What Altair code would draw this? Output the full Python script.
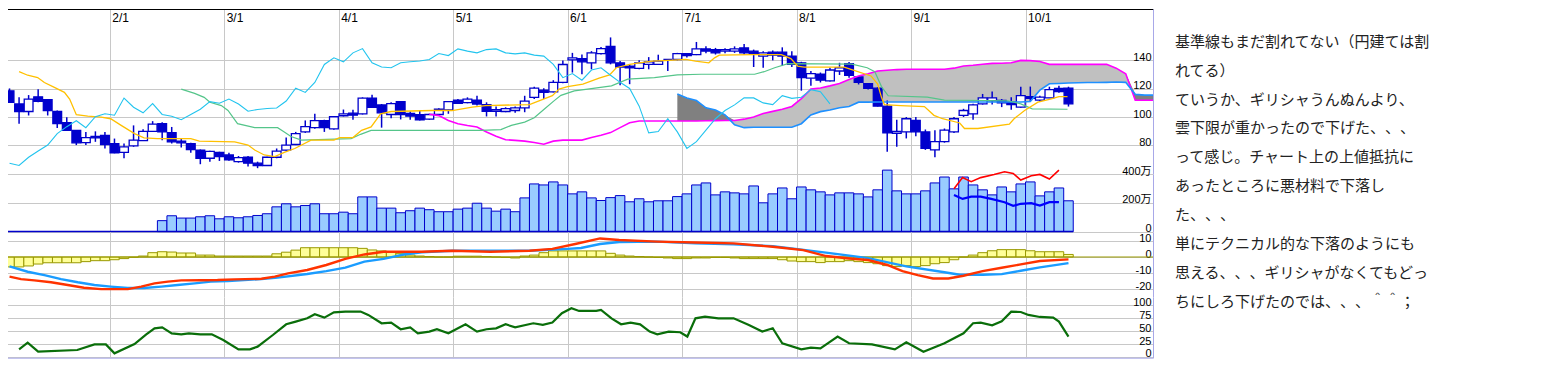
import json
import altair as alt
import pandas as pd

# ---------------- values ----------------
months = ["2/1", "3/1", "4/1", "5/1", "6/1", "7/1", "8/1", "9/1", "10/1"]
month_pos = [11, 23, 35, 47, 59, 71, 83, 95, 107]

opens = [118.5, 109.2, 103.9, 114.3, 112.3, 103.9, 96.0, 90.6, 82.0, 86.4,
         87.1, 81.3, 75.0, 79.7, 83.4, 89.9, 95.3, 89.0, 83.0, 81.3,
         76.7, 70.9, 75.0, 73.2, 68.5, 71.6, 67.4, 65.8, 71.6, 76.7,
         80.6, 89.5, 92.5, 97.4, 91.6, 100.9, 102.7, 102.3, 113.4, 108.5,
         101.8, 110.9, 102.5, 101.6, 98.5, 101.8, 105.1, 112.0, 110.2, 112.0,
         108.8, 104.1, 103.9, 104.6, 106.4, 113.9, 119.0, 117.8, 124.4, 140.4,
         141.3, 138.3, 144.8, 149.9, 138.3, 136.0, 134.4, 137.2, 137.2, 140.6,
         140.6, 144.8, 144.1, 148.1, 147.6, 146.5, 146.5, 148.8, 146.5, 143.0,
         145.8, 145.8, 143.0, 138.3, 127.4, 130.2, 125.5, 132.5, 137.6, 128.3,
         123.5, 120.4, 107.7, 88.5, 89.5, 97.7, 89.5, 76.8, 82.6, 89.5,
         101.2, 102.3, 109.3, 111.6, 111.8, 110.5, 107.0, 114.4, 112.0, 113.5,
         120.2, 120.4]
highs = [120.2, 113.9, 115.5, 119.7, 112.7, 104.6, 99.9, 90.6, 89.5, 89.9,
         89.5, 84.8, 81.3, 94.1, 91.3, 97.1, 96.4, 93.0, 84.8, 81.8,
         77.1, 76.2, 75.5, 74.8, 72.5, 72.5, 68.5, 72.0, 77.8, 85.5,
         89.5, 97.6, 102.3, 98.1, 100.6, 105.3, 105.1, 113.9, 115.7, 109.2,
         110.4, 110.9, 103.9, 104.6, 102.3, 106.2, 111.3, 112.7, 113.9, 115.0,
         110.4, 107.4, 106.9, 107.4, 115.0, 121.3, 120.4, 126.0, 139.9, 145.3,
         144.1, 146.5, 149.5, 156.2, 139.5, 137.2, 140.0, 142.3, 144.0, 141.0,
         145.3, 145.0, 153.0, 150.0, 148.8, 148.5, 149.9, 151.5, 147.6, 146.5,
         147.0, 149.2, 146.4, 139.0, 132.5, 131.4, 134.8, 138.3, 138.8, 129.0,
         124.0, 121.0, 111.6, 98.0, 100.0, 100.0, 91.2, 90.7, 91.9, 100.0,
         105.8, 109.3, 116.3, 118.1, 112.7, 114.0, 121.4, 121.5, 115.0, 121.4,
         122.0, 121.4]
lows = [110.0, 95.3, 101.1, 110.4, 101.1, 92.3, 90.6, 80.2, 80.2, 82.5,
        77.8, 74.4, 70.9, 79.0, 83.0, 89.5, 83.7, 81.3, 78.5, 74.8,
        66.7, 68.5, 69.0, 69.2, 67.8, 65.1, 63.9, 65.5, 70.9, 76.2,
        80.2, 88.8, 91.8, 89.5, 91.1, 100.4, 98.1, 101.8, 106.4, 92.5,
        99.2, 98.3, 98.1, 97.6, 98.1, 101.1, 102.3, 109.2, 109.7, 108.1,
        100.4, 100.4, 103.4, 103.0, 103.4, 112.7, 112.7, 117.4, 123.9, 131.4,
        130.2, 133.7, 144.1, 137.2, 122.5, 123.2, 133.7, 133.7, 137.0, 132.5,
        140.0, 142.0, 143.7, 145.0, 144.1, 145.0, 145.3, 144.1, 135.3, 134.8,
        140.0, 136.0, 135.3, 118.6, 122.1, 124.4, 125.0, 129.7, 127.8, 123.0,
        119.5, 107.4, 75.5, 79.0, 84.9, 86.5, 76.8, 71.7, 81.9, 88.8,
        100.0, 98.1, 108.8, 108.8, 107.0, 105.1, 106.5, 111.0, 111.0, 113.3,
        117.2, 107.4]
closes = [110.4, 103.9, 112.7, 111.1, 104.6, 95.3, 90.6, 81.8, 85.5, 85.3,
          80.6, 74.8, 79.0, 83.7, 89.9, 95.0, 89.5, 82.5, 81.8, 77.1,
          70.9, 75.7, 72.0, 69.7, 71.3, 67.4, 65.8, 71.6, 76.0, 80.2,
          88.3, 93.2, 97.4, 92.5, 100.2, 102.3, 101.3, 113.4, 106.9, 103.0,
          109.5, 101.8, 100.6, 98.1, 101.8, 105.5, 110.9, 109.7, 112.7, 109.2,
          104.1, 105.3, 106.0, 106.4, 111.3, 120.4, 117.4, 124.4, 137.1, 141.8,
          139.0, 145.3, 148.3, 138.3, 135.3, 134.8, 138.3, 139.0, 139.5, 140.6,
          144.8, 143.4, 148.1, 146.5, 145.3, 147.6, 148.1, 145.3, 144.6, 145.3,
          143.7, 143.0, 137.2, 127.8, 130.7, 126.0, 133.2, 134.8, 129.5, 124.5,
          120.2, 107.7, 88.8, 89.8, 98.8, 89.5, 77.9, 82.6, 90.7, 98.8,
          104.6, 108.6, 113.5, 113.5, 110.0, 108.8, 115.1, 113.2, 114.0, 119.3,
          117.9, 109.3]

tenkan = [(1, 132.0), (1.9, 129.5), (2.95, 127.9), (3.65, 124.4), (4.7, 120.9), (5.75, 117.4),
          (6.3, 112.7), (7, 101.6), (8.2, 100.6), (9.6, 99.9), (10.6, 98.8), (11.7, 94.1),
          (13.1, 88.3), (14.1, 85.3), (15.5, 84.8), (19, 84.8), (19.9, 83.0), (23.6, 82.5),
          (25, 80.2), (25.7, 76.7), (26.7, 73.2), (27.8, 72.0), (28.8, 75.0), (29.9, 77.8),
          (31.6, 83.7), (34, 83.7), (34.6, 85.5), (36, 85.5), (36.9, 90.6), (37.9, 93.0),
          (38.9, 102.3), (40, 103.9), (44.3, 104.6), (46.4, 104.6), (48.5, 107.0), (49.9, 108.1),
          (54.5, 108.8), (56.9, 115.1), (57.6, 119.7), (58.5, 121.4), (60.1, 123.2), (61.8, 127.4),
          (62.9, 129.7), (63.6, 134.8), (65, 137.2), (66, 138.3), (67.4, 139.5), (69.1, 140.0),
          (70.9, 140.7), (71.9, 139.5), (73.3, 138.3), (73.9, 141.8), (74.4, 143.7), (77.9, 144.1),
          (80.9, 144.1), (81.9, 141.3), (82.6, 136.0), (83.3, 135.3), (87.5, 135.3), (88.2, 133.7),
          (90.3, 129.0), (91, 123.2), (91.4, 113.9), (91.7, 108.8), (93.4, 108.1), (95.9, 107.4),
          (96.9, 101.2), (97.8, 98.8), (99.6, 95.8), (100.1, 91.9), (101.5, 91.9), (104.8, 94.9),
          (105.3, 98.8), (106.4, 104.6), (107.8, 110.5), (109.2, 112.8), (110, 114.4), (110.9, 114.4)]
kijun = [(18, 119.7), (19.4, 116.7), (20.4, 113.9), (21, 110.4), (22.2, 108.1), (22.9, 104.6),
         (23.9, 95.3), (25.7, 92.5), (28.1, 92.5), (28.8, 89.5), (29.5, 86.3), (30.6, 83.7),
         (35.8, 84.8), (36.8, 87.8), (37.9, 90.6), (49.4, 90.6), (51.5, 91.1), (52.6, 94.1),
         (54, 96.4), (55, 99.5), (56.1, 105.8), (57.1, 111.6), (57.8, 115.3), (59.2, 118.5),
         (60.6, 119.7), (63.1, 122.0), (64.8, 126.7), (67.6, 127.8), (70, 129.7), (72.5, 130.2),
         (78.1, 130.2), (79.1, 132.0), (80.2, 134.8), (81.6, 137.7), (88.3, 137.4), (89.9, 134.8),
         (90.7, 132.0), (91.4, 121.5), (92.1, 115.0), (96.2, 114.0), (98, 112.0), (104.6, 111.5),
         (106, 109.3), (107.2, 105.8), (110.9, 105.5)]
chikou_lag = 25

span_a_start = 44
span_a = [102.0, 101.0, 97.5, 95.3, 94.0, 93.0, 89.5, 86.5, 84.0, 83.5,
          83.0, 82.0, 80.8, 83.0, 83.7, 83.7, 83.7, 85.6, 87.2, 89.0,
          92.5, 96.0, 97.2, 97.2, 97.2, 97.2, 97.2, 97.2, 97.2, 97.4,
          97.5, 97.6, 97.6, 98.5, 100.0, 102.5, 104.0, 105.5, 107.5, 113.0,
          119.7, 120.5, 122.0, 123.7, 126.5, 129.0, 130.5, 132.5, 133.0, 133.5,
          133.7, 133.7, 133.7, 133.7, 133.7, 134.5, 136.0, 136.5, 137.3, 137.9,
          138.0, 138.3, 140.0, 139.8, 139.2, 137.2, 137.2, 137.2, 137.2, 137.2,
          137.2, 137.2, 134.5, 130.5, 111.8, 111.8, 111.8]
span_b_start = 70
span_b = [116.2, 113.5, 111.6, 106.5, 105.0, 101.5, 94.5, 92.5, 92.8, 92.8,
          92.8, 92.8, 92.8, 95.3, 101.5, 103.8, 105.0, 106.5, 107.4, 110.5,
          110.5, 110.6, 110.6, 110.6, 110.6, 110.6, 110.6, 110.6, 110.6, 110.6,
          110.6, 110.6, 110.6, 110.6, 110.6, 110.6, 110.6, 111.0, 119.0, 123.5,
          123.7, 124.0, 124.2, 124.4, 124.4, 124.5, 124.7, 124.5, 116.0, 115.5,
          115.5]

vol_start = 16
volumes = [76, 110, 94, 94, 103, 110, 89, 103, 96, 103,
           112, 124, 172, 193, 172, 181, 193, 124, 124, 135,
           124, 241, 241, 163, 163, 131, 145, 163, 152, 138,
           138, 156, 163, 197, 163, 142, 156, 138, 234, 331,
           324, 345, 324, 262, 276, 234, 216, 236, 250, 207,
           228, 207, 214, 214, 243, 262, 324, 338, 255, 276,
           269, 262, 317, 200, 262, 303, 228, 310, 290, 276,
           255, 269, 269, 262, 241, 290, 427, 283, 262, 262,
           283, 338, 379, 297, 379, 324, 290, 255, 310, 276,
           331, 345, 248, 276, 303, 214]
vol_ma_red = [(99, 297), (99.9, 375), (100.8, 347), (101.8, 375), (103.2, 397), (104.3, 416),
              (105.2, 404), (106, 358), (107.1, 388), (108, 397), (109, 365), (110, 427)]
vol_ma_blue = [(99, 255), (99.9, 227), (100.8, 243), (101.8, 243), (102.9, 227), (104.3, 204),
               (105.2, 179), (106, 193), (107.1, 197), (108, 181), (109, 204), (110, 204)]

macd_red = [(0, -12.3), (1.2, -13.8), (2.6, -14.6), (4.35, -15.8), (6.1, -17.5), (7.8, -19.2),
            (9.6, -20.1), (12.4, -20.1), (13.8, -18.5), (15.2, -16.5), (16.6, -15.4), (18, -14.6),
            (20.1, -14.5), (21.8, -14.4), (23.6, -14.0), (26.4, -13.6), (27.8, -12.3), (29.2, -10.2),
            (31.2, -8.1), (33.2, -5.0), (35.2, -1.2), (37.2, 1.6), (39.2, 3.3), (43.2, 3.3),
            (46.4, 3.9), (50.4, 3.3), (54.5, 3.9), (56.9, 5.1), (59.3, 8.1), (61.9, 11.6),
            (63.9, 10.6), (67.9, 9.6), (71.9, 9.1), (75.9, 8.5), (80, 6.4), (83.2, 4.3),
            (85.6, 0.6), (88, -0.9), (90, -1.9), (92, -5.0), (93.6, -8.8), (95.2, -11.3),
            (96.8, -13.4), (98.4, -13.4), (100, -11.7), (102, -8.8), (104, -6.7), (106, -4.6),
            (108, -2.5), (111, -1.5)]
macd_blue = [(0, -5.8), (1.9, -9.2), (3.65, -11.3), (5.4, -13.8), (7.15, -15.8), (8.9, -17.5),
             (10.6, -18.5), (12.4, -19.4), (14.1, -19.4), (15.9, -18.5), (17.6, -17.5), (19.4, -16.5),
             (21.1, -15.4), (22.9, -15.0), (24.6, -14.4), (26.4, -13.8), (28.1, -12.9), (31.2, -10.6),
             (33.2, -8.8), (35.2, -6.6), (37.2, -2.9), (39.2, -1.2), (41.2, 1.4), (43.2, 3.0),
             (46.4, 3.9), (50.4, 3.9), (54.5, 3.9), (58.5, 5.1), (59.9, 5.6), (61.9, 8.1),
             (63.9, 9.4), (67.9, 9.6), (71.9, 8.5), (75.9, 7.9), (80, 6.8), (82.4, 5.1),
             (86, 2.4), (90, -0.7), (94, -5.9), (98, -9.5), (99.6, -11.1), (102, -11.1),
             (104, -10.7), (106, -8.6), (108, -6.5), (111, -3.8)]
macd_hist = [-6.2, -6.2, -5.6, -4.4, -3.6, -3.6, -3.6, -3.6, -2.9, -2.3,
             -2.3, -1.7, -1.0, -0.2, 0.6, 2.7, 3.3, 3.1, 2.5, 2.5,
             1.2, 1.2, 0.6, 0.6, 0.6, 0.6, 0.6, 0.6, 2.0, 3.0,
             4.3, 5.8, 5.8, 5.8, 5.8, 5.8, 5.8, 5.4, 4.4, 3.8,
             2.9, 2.3, 1.2, 0.6, 0.3, 0.0, 0.0, 0.5, 0.5, 0.5,
             0.3, 0.0, -0.3, -0.6, 0.6, 1.2, 2.7, 3.8, 3.8, 3.8,
             3.8, 3.8, 3.8, 2.3, 1.2, 0.6, 0.3, 0.0, -0.3, -0.6,
             -1.0, -1.0, -0.6, -0.6, -0.3, -0.3, -0.6, -1.0, -1.0, -1.0,
             -1.0, -1.7, -2.5, -2.9, -2.9, -3.5, -2.9, -2.9, -2.3, -2.9,
             -3.5, -4.2, -5.4, -6.0, -5.4, -6.0, -5.4, -4.2, -3.5, -1.7,
             0.0, 1.2, 2.7, 3.9, 4.6, 4.6, 4.6, 3.9, 3.3, 3.3,
             3.3, 1.6]

rsi = [(1, 14.7), (1.9, 27.5), (3, 10.2), (7.1, 13.4), (8.9, 24.3), (10.1, 24.3), (11, 7.1),
       (13.1, 25.0), (14.3, 43.0), (15.2, 55.1), (16, 57.0), (17, 45.5), (18, 43.6), (18.8, 45.5),
       (20, 43.6), (21.2, 43.6), (22.4, 32.7), (24, 14.7), (25.2, 14.7), (26, 19.9), (27.6, 42.3),
       (29, 62.9), (30, 68.0), (31.2, 74.4), (32, 82.1), (33, 75.7), (34, 86.0), (35.2, 87.3),
       (36.8, 87.3), (37.6, 80.9), (39, 64.9), (40, 66.2), (41, 53.4), (42, 57.0), (42.8, 45.5),
       (44, 48.9), (44.8, 53.4), (46, 45.5), (47.8, 62.9), (49, 48.9), (50, 53.4), (51, 55.1),
       (52, 62.9), (53, 57.0), (54.9, 64.9), (55.9, 61.7), (56.9, 66.2), (57.9, 84.1), (58.9, 93.7),
       (59.7, 88.6), (61.5, 88.6), (62, 90.5), (63.1, 74.4), (64.1, 62.9), (65.1, 66.2), (66.1, 62.9),
       (67.1, 48.9), (67.9, 43.6), (69.1, 48.9), (70.3, 47.6), (71.05, 39.3), (71.9, 74.4), (72.9, 77.6),
       (74.3, 74.4), (75.9, 74.4), (77.5, 61.7), (78.9, 48.9), (80, 55.3), (81, 26.4), (83, 14.7),
       (84, 17.9), (85, 16.6), (86.8, 39.3), (88, 26.4), (90.4, 24.4), (92.8, 14.7), (94, 28.2),
       (95.8, 10.2), (98, 26.4), (100, 45.5), (101, 64.9), (101.8, 66.2), (103, 61.0), (104, 68.5),
       (105, 87.3), (106, 86.5), (106.8, 80.9), (108, 77.0), (109.4, 75.7), (110, 68.1), (111, 39.3)]

price_ticks = [80, 100, 120, 140]
price_labels = ["80", "100", "120", "140"]
vol_ticks = [0, 200, 400]
vol_labels = ["0", "200万", "400万"]
macd_ticks = [-20, -10, 0, 10]
macd_labels = ["-20", "-10", "0", "10"]
rsi_ticks = [0, 25, 50, 75, 100]
rsi_labels = ["0", "25", "50", "75", "100"]

comment_lines = [
    "基準線もまだ割れてない（円建ては割",
    "れてる）",
    "ていうか、ギリシャうんぬんより、",
    "雲下限が重かったので下げた、、、",
    "って感じ。チャート上の上値抵抗に",
    "あったところに悪材料で下落し",
    "た、、、",
    "単にテクニカル的な下落のようにも",
    "思える、、、ギリシャがなくてもどっ",
    "ちにしろ下げたのでは、、、＾＾；",
]

# ---------------- styling ----------------
W = 1149
H_PRICE, H_VOL, H_MACD, H_RSI = 164.7, 57.6, 65.0, 60.7
X0, X1 = -0.08, 120.36
GRID = "#c8c8c8"
LAV = "#a8a8e8"
BLUE = "#0000cc"
NUMFONT = "Liberation Sans Narrow, Liberation Sans, Noto Sans CJK JP, sans-serif"
NUMSIZE = 11


def lookup_expr(values, labels):
    return "%s[indexof(%s, datum.value)]" % (json.dumps(labels, ensure_ascii=False), json.dumps(values))


def xscale():
    return alt.Scale(domain=[X0, X1], nice=False, zero=False)


def xaxis(kind):
    common = dict(values=month_pos, grid=True, gridColor=GRID, gridWidth=1, ticks=False,
                  tickSize=0, title=None)
    if kind == "top":
        return alt.Axis(orient="top", domain=True, domainColor="black", domainWidth=1,
                        labels=True, labelExpr=lookup_expr(month_pos, months), labelAlign="left",
                        labelBaseline="top", labelPadding=-3, labelOffset=2, labelFont=NUMFONT,
                        labelFontSize=12, labelColor="black", labelFlush=False,
                        labelOverlap=False, **common)
    if kind == "bottom":
        return alt.Axis(orient="bottom", domain=True, domainColor=LAV, domainWidth=1,
                        labels=False, **common)
    return alt.Axis(orient="bottom", domain=False, labels=False, **common)


def yaxis(values, labels):
    return alt.Axis(orient="right", values=values, labelExpr=lookup_expr(values, labels),
                    grid=True, gridColor=GRID, gridWidth=1, ticks=False, tickSize=0,
                    domain=True, domainColor=LAV, domainWidth=1, labelAlign="right",
                    labelBaseline="alphabetic", labelPadding=-2, labelFont=NUMFONT,
                    labelFontSize=NUMSIZE, labelColor="black", labelFlush=False,
                    labelOverlap=False, title=None)


def X(field, axis=None):
    return alt.X(field, type="quantitative", scale=xscale(), axis=axis)


def pairs_df(pairs):
    return pd.DataFrame({"x": [p[0] + 0.5 for p in pairs], "v": [p[1] for p in pairs]})


def left_border():
    return alt.Chart(pd.DataFrame({"x": [X0]})).mark_rule(color="black", strokeWidth=1).encode(
        x=X("x"))


def panel(*layers, height):
    return alt.layer(*layers).resolve_axis(x="independent", y="independent").properties(
        width=W, height=height)


# ---------------- price panel ----------------
PS = alt.Scale(domain=[60, 176.26], nice=False, zero=False)
n = len(opens)
candles = pd.DataFrame({"i": list(range(n)), "open": opens, "high": highs,
                        "low": lows, "close": closes})
candles["xc"] = candles["i"] + 0.5
candles["xl"] = candles["i"] + 0.04
candles["xr"] = candles["i"] + 0.96
candles["fillc"] = [BLUE if c < o else "#ffffff" for o, c in zip(opens, closes)]

cloud = pd.DataFrame({"i": list(range(span_b_start, span_b_start + len(span_b))), "b": span_b})
cloud["a"] = [span_a[i - span_a_start] for i in cloud["i"]]
cloud["hi"] = cloud[["a", "b"]].max(axis=1)
cloud["x"] = cloud["i"] + 0.5

spa = pd.DataFrame({"x": [span_a_start + k + 0.5 for k in range(len(span_a))], "v": span_a})
spb = pd.DataFrame({"x": [span_b_start + k + 0.5 for k in range(len(span_b))], "v": span_b})
chik = pd.DataFrame({"x": [k + 0.5 for k in range(n - chikou_lag)], "v": closes[chikou_lag:]})

light = alt.Chart(cloud).mark_area(color="#c0c0c0", clip=True, interpolate="linear").encode(
    x=X("x", xaxis("top")),
    y=alt.Y("b:Q", scale=PS, axis=yaxis(price_ticks, price_labels)),
    y2="hi:Q")
dark = alt.Chart(cloud).mark_area(color="#808080", clip=True, interpolate="linear").encode(
    x=X("x"), y=alt.Y("a:Q", scale=PS, axis=None), y2="hi:Q")
wicks = alt.Chart(candles).mark_rule(color=BLUE, strokeWidth=1.5).encode(
    x=X("xc"), y=alt.Y("low:Q", scale=PS, axis=None), y2="high:Q")
bodies = alt.Chart(candles).mark_rect(stroke=BLUE, strokeWidth=1.3).encode(
    x=X("xl"), x2="xr:Q", y=alt.Y("open:Q", scale=PS, axis=None), y2="close:Q",
    fill=alt.Fill("fillc:N", scale=None))


def pline(df, color, width):
    return alt.Chart(df).mark_line(color=color, strokeWidth=width, clip=True).encode(
        x=X("x"), y=alt.Y("v:Q", scale=PS, axis=None))


price = panel(
    light, dark, wicks, bodies,
    pline(spa, "#ff00ff", 1.6), pline(spb, "#1e90ff", 1.6),
    pline(pairs_df(kijun), "#55c58a", 1.2),
    pline(pairs_df(tenkan), "#ffc000", 1.3),
    pline(chik, "#22c4ee", 1.1),
    left_border(),
    height=H_PRICE)

# ---------------- volume panel ----------------
VS = alt.Scale(domain=[0, 400], nice=False, zero=False)
vol = pd.DataFrame({"i": list(range(vol_start, vol_start + len(volumes))), "v": volumes})
vol["xl"] = vol["i"]
vol["xr"] = vol["i"] + 1
vol["z"] = 0
vbars = alt.Chart(vol).mark_rect(fill="#99ccff", stroke=BLUE, strokeWidth=1).encode(
    x=X("xl", xaxis("mid")), x2="xr:Q",
    y=alt.Y("v:Q", scale=VS, axis=yaxis(vol_ticks, vol_labels)), y2="z:Q")
vbase = alt.Chart(pd.DataFrame({"x1": [X0], "x2": [n], "y": [0]})).mark_rule(
    color=BLUE, strokeWidth=1.5).encode(x=X("x1"), x2="x2:Q", y=alt.Y("y:Q", scale=VS, axis=None))


def vline(pairs, color, width):
    return alt.Chart(pairs_df(pairs)).mark_line(color=color, strokeWidth=width).encode(
        x=X("x"), y=alt.Y("v:Q", scale=VS, axis=None))


volume = panel(vbars, vbase, vline(vol_ma_red, "#ff0000", 1.6),
               vline(vol_ma_blue, "#0000ff", 2.2), left_border(), height=H_VOL)

# ---------------- MACD panel ----------------
MS = alt.Scale(domain=[-25, 15.625], nice=False, zero=False)
hist = pd.DataFrame({"i": list(range(len(macd_hist))), "h": macd_hist})
hist["xl"] = hist["i"]
hist["xr"] = hist["i"] + 1
hist["z"] = 0
hbars = alt.Chart(hist).mark_rect(fill="#ffff99", stroke="#999900", strokeWidth=1).encode(
    x=X("xl", xaxis("mid")), x2="xr:Q",
    y=alt.Y("h:Q", scale=MS, axis=yaxis(macd_ticks, macd_labels)), y2="z:Q")
zero = alt.Chart(pd.DataFrame({"y": [0]})).mark_rule(color="#999900", strokeWidth=1.2).encode(
    y=alt.Y("y:Q", scale=MS, axis=None))


def mline(pairs, color):
    return alt.Chart(pairs_df(pairs)).mark_line(color=color, strokeWidth=2.4).encode(
        x=X("x"), y=alt.Y("v:Q", scale=MS, axis=None))


macd = panel(hbars, zero, mline(macd_blue, "#1a9cff"), mline(macd_red, "#ff3300"),
             left_border(), height=H_MACD)

# ---------------- RSI panel ----------------
RS = alt.Scale(domain=[-1.35, 115.4], nice=False, zero=False)
rsi_line = alt.Chart(pairs_df(rsi)).mark_line(color="#0a6e0a", strokeWidth=2.2).encode(
    x=X("x", xaxis("bottom")),
    y=alt.Y("v:Q", scale=RS, axis=yaxis(rsi_ticks, rsi_labels)))
rsi_chart = panel(rsi_line, left_border(), height=H_RSI)

# ---------------- comment text ----------------
# a zero-width space after each ideographic comma keeps the browser from
# squeezing runs of consecutive full-width punctuation
shown_lines = [s.replace("、", "、\u200b") for s in comment_lines]
tdf = pd.DataFrame({"k": list(range(len(shown_lines))), "t": shown_lines,
                    "x0": [0] * len(shown_lines)})
comment = alt.Chart(tdf).mark_text(align="left", baseline="middle", font="Noto Sans CJK JP",
                                   fontSize=15, color="#222222").encode(
    x=alt.X("x0:Q", scale=alt.Scale(domain=[0, 1], nice=False, zero=False), axis=None),
    y=alt.Y("k:Q", scale=alt.Scale(domain=[-1.1315, 10.91], reverse=True, nice=False,
                                   zero=False), axis=None),
    text="t:N").properties(width=330, height=348)

main = alt.vconcat(price, volume, macd, rsi_chart, spacing=0, bounds="flush")
chart = alt.hconcat(main, comment, spacing=21).properties(
    padding={"left": -5, "top": 0, "right": 0, "bottom": 0}
).configure_view(stroke=None)

chart.save("out.html", embed_options={"renderer": "svg", "actions": False})
